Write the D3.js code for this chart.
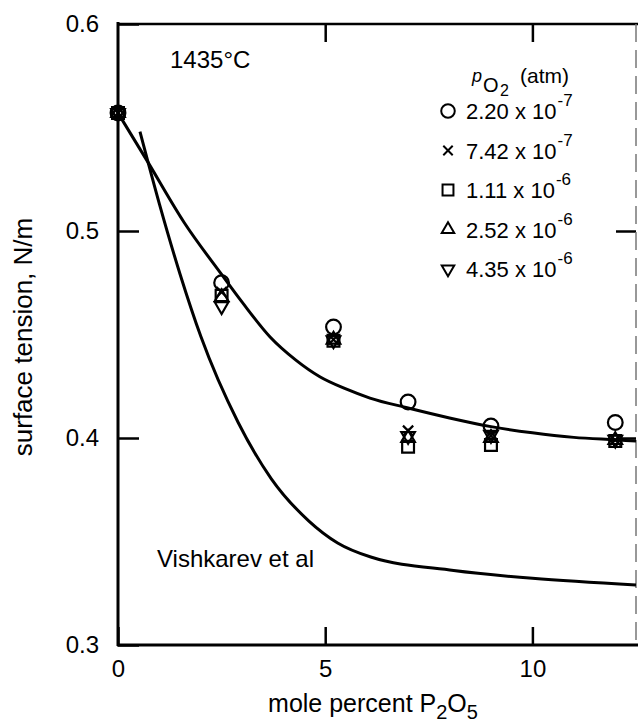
<!DOCTYPE html>
<html>
<head>
<meta charset="utf-8">
<script src="https://cdn.jsdelivr.net/npm/d3@7"></script>
<style>
	body { margin: 0; background: #fff; }
	svg { display: block; font-family: 'Liberation Sans', Arial, sans-serif; }
</style>
</head>
<body>
<div id="chart"></div>
<script>
//data
const xValues = [0, 2.5, 5.2, 7.0, 9.0, 12.0];
const circleValues = [0.557, 0.475, 0.4536, 0.4174, 0.4058, 0.4075];
const crossValues = [0.557, 0.4705, 0.4475, 0.4035, 0.401, 0.399];
const squareValues = [0.557, 0.4687, 0.447, 0.3958, 0.3966, 0.3985];
const triangleValues = [0.557, 0.468, 0.4475, 0.4, 0.4, 0.399];
const downTriangleValues = [0.557, 0.4637, 0.4472, 0.401, 0.4015, 0.3992];

const seriesLabels = ['2.20 x 10', '7.42 x 10', '1.11 x 10', '2.52 x 10', '4.35 x 10'];
const seriesExponents = ['-7', '-7', '-6', '-6', '-6'];

// fitted curve through this work's data
const fitX = [0, 0.7, 1.6, 2.5, 3.0, 3.67, 4.3, 4.87, 5.5, 6.08, 7.0, 8.0, 9.0, 10.0, 11.0, 12.0, 12.5];
const fitY = [0.557, 0.534, 0.504, 0.479, 0.4655, 0.4488, 0.4375, 0.4296, 0.4237, 0.4193, 0.4145, 0.4097, 0.4055, 0.4025, 0.4003, 0.3991, 0.3985];

// Vishkarev et al curve
const vishX = [0.53, 1.0, 1.5, 2.0, 2.9, 3.7, 4.6, 5.3, 6.1, 8.1, 10.0, 12.5];
const vishY = [0.548, 0.513, 0.479, 0.449, 0.4075, 0.3803, 0.36, 0.3493, 0.3425, 0.336, 0.3322, 0.329];

const xTicks = [0, 5, 10];
const yTicks = [0.3, 0.4, 0.5, 0.6];

render();

function render() {
	const width = 638;
	const height = 724;

	const svg = d3.select('#chart').append('svg')
		.attr('width', width)
		.attr('height', height);

	const x = d3.scaleLinear().domain([0, 12.5]).range([118, 636]);
	const y = d3.scaleLinear().domain([0.3, 0.6]).range([645, 24]);

	//axes
	const left = svg.append('g')
		.attr('transform', translation(118, 0))
		.call(d3.axisLeft(y).tickValues(yTicks).tickSize(-21).tickPadding(19).tickFormat(d3.format('.1f')));
	const bottom = svg.append('g')
		.attr('transform', translation(0, 645))
		.call(d3.axisBottom(x).tickValues(xTicks).tickSize(-18).tickPadding(15).tickFormat(d3.format('d')));
	const top = svg.append('g')
		.attr('transform', translation(0, 24))
		.call(d3.axisTop(x).tickValues([5, 10]).tickSize(-18).tickFormat(''));
	const right = svg.append('g')
		.attr('transform', translation(636, 0))
		.call(d3.axisRight(y).tickValues([0.4, 0.5]).tickSize(-20).tickFormat(''));

	[left, bottom, top, right].forEach((g) => {
		g.select('.domain').remove();
		g.selectAll('line').style('stroke', '#000').style('stroke-width', 2.5);
		g.selectAll('text')
			.style('font-size', '24px')
			.style('fill', '#000');
	});

	//frame
	const frame = svg.append('g');
	frame.append('line')
		.attr('x1', 118).attr('x2', 118).attr('y1', 22).attr('y2', 646)
		.style('stroke', '#000').style('stroke-width', 3);
	frame.append('line')
		.attr('x1', 117).attr('x2', 638).attr('y1', 645).attr('y2', 645)
		.style('stroke', '#000').style('stroke-width', 3);
	frame.append('line')
		.attr('x1', 117).attr('x2', 638).attr('y1', 24).attr('y2', 24)
		.style('stroke', '#000').style('stroke-width', 2.5);
	frame.append('line')
		.attr('x1', 636).attr('x2', 636).attr('y1', 24).attr('y2', 645)
		.style('stroke', '#777').style('stroke-width', 1.5)
		.style('stroke-dasharray', '18,8');

	//curves
	const line = d3.line()
		.x((d) => x(d[0]))
		.y((d) => y(d[1]))
		.curve(d3.curveMonotoneX);

	svg.append('path')
		.attr('d', line(d3.zip(fitX, fitY)))
		.style('fill', 'none')
		.style('stroke', '#000')
		.style('stroke-width', 3);

	svg.append('path')
		.attr('d', line(d3.zip(vishX, vishY)))
		.style('fill', 'none')
		.style('stroke', '#000')
		.style('stroke-width', 3);

	//markers
	const series = [
		{ values: circleValues, type: d3.symbolCircle, size: 170, rotate: 0 },
		{ values: crossValues, type: d3.symbolTimes, size: 70, rotate: 0 },
		{ values: squareValues, type: d3.symbolSquare, size: 140, rotate: 0 },
		{ values: triangleValues, type: d3.symbolTriangle, size: 80, rotate: 0 },
		{ values: downTriangleValues, type: d3.symbolTriangle, size: 80, rotate: 180 },
	];

	series.forEach((s) => {
		svg.append('g').selectAll('path')
			.data(s.values)
			.join('path')
			.attr('d', d3.symbol().type(s.type).size(s.size))
			.attr('transform', (d, i) => translation(x(xValues[i]), y(d)) + ` rotate(${s.rotate})`)
			.style('fill', 'none')
			.style('stroke', '#000')
			.style('stroke-width', 2.2);
	});

	//legend
	const legend = svg.append('g');
	legend.append('text').attr('x', 472).attr('y', 82)
		.style('font-size', '18px').style('font-style', 'italic').text('p');
	legend.append('text').attr('x', 483).attr('y', 92)
		.style('font-size', '20px').text('O');
	legend.append('text').attr('x', 500).attr('y', 96)
		.style('font-size', '16px').text('2');
	legend.append('text').attr('x', 520).attr('y', 83)
		.style('font-size', '21px').text('(atm)');

	series.forEach((s, i) => {
		const yb = 119 + i * 39.5;
		legend.append('path')
			.attr('d', d3.symbol().type(s.type).size(s.size * 0.85)())
			.attr('transform', translation(448, yb - 8) + ` rotate(${s.rotate})`)
			.style('fill', 'none')
			.style('stroke', '#000')
			.style('stroke-width', 2);
		const label = legend.append('text')
			.attr('x', 466)
			.attr('y', yb)
			.style('font-size', '22px')
			.text(seriesLabels[i]);
		const w = label.node().getComputedTextLength();
		legend.append('text')
			.attr('x', 466 + w + 1)
			.attr('y', yb - 13)
			.style('font-size', '17px')
			.text(seriesExponents[i]);
	});

	//annotations
	svg.append('text')
		.attr('x', 170).attr('y', 68)
		.style('font-size', '24px')
		.text('1435°C');

	svg.append('text')
		.attr('x', 157).attr('y', 567)
		.style('font-size', '24px')
		.text('Vishkarev et al');

	//axis titles
	svg.append('text')
		.attr('transform', translation(32, 337) + ' rotate(-90)')
		.style('text-anchor', 'middle')
		.style('font-size', '26px')
		.text('surface tension, N/m');

	const xTitle = svg.append('text')
		.attr('x', 373)
		.attr('y', 712)
		.style('text-anchor', 'middle')
		.style('font-size', '25px');
	xTitle.append('tspan').text('mole percent P');
	xTitle.append('tspan').attr('dy', 7).style('font-size', '20px').text('2');
	xTitle.append('tspan').attr('dy', -7).text('O');
	xTitle.append('tspan').attr('dy', 7).style('font-size', '20px').text('5');
}

//utils
function translation(x, y) {
	return `translate(${x}, ${y})`;
}
</script>
</body>
</html>
